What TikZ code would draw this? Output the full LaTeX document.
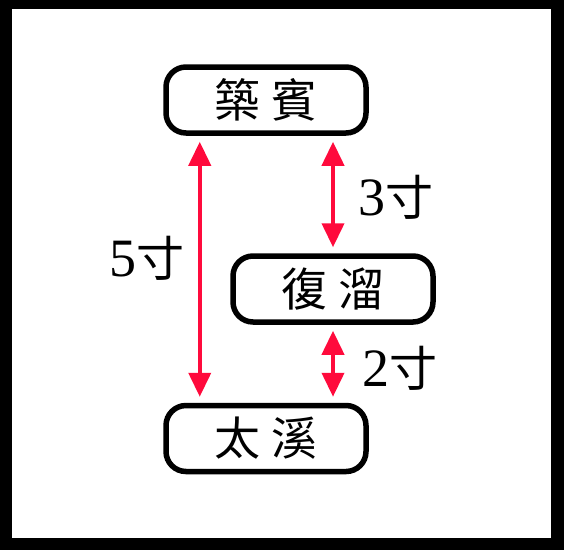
\documentclass[tikz,border=0pt]{standalone}
\usepackage{fontspec}
\setmainfont{Liberation Serif}
\newfontfamily\cjk{Noto Sans CJK TC}
\usetikzlibrary{arrows.meta}
\definecolor{frameBlack}{HTML}{000000}
\definecolor{dimRed}{HTML}{FF0A3C}
\tikzset{
    point/.style={draw=frameBlack,line width=5.5pt,rounded corners=20pt,fill=white,
        minimum width=200pt,minimum height=66pt,inner sep=0pt,
        font=\cjk\fontsize{46}{46}\selectfont},
    dimarrow/.style={{Triangle[length=24pt,width=22pt]}-{Triangle[length=24pt,width=22pt]},
        draw=dimRed,line width=4pt,shorten <=6pt,shorten >=6pt},
    dimlabel/.style={inner sep=0pt,align=center}
}
\newcommand{\sunLabel}[1]{{\fontsize{54}{54}\selectfont #1}{\cjk\fontsize{48}{48}\selectfont 寸}}

\begin{document}
\begin{tikzpicture}[x=1pt,y=-1pt]
    \useasboundingbox (0,0) rectangle (564,550);
    \fill[frameBlack] (0,0) rectangle (564,550);
    \fill[white] (12,9) rectangle (551,538);

    \node[point] (zhubin) at (266,100) {築\hspace{11pt}賓};
    \node[point] (fuliu) at (333,289) {復\hspace{11pt}溜};
    \node[point] (taixi) at (266,438.5) {太\hspace{11pt}溪};

    \draw[dimarrow] ([xshift=36.5pt]zhubin.south west) -- ([xshift=36.5pt]taixi.north west);
    \draw[dimarrow] (fuliu.north |- zhubin.south) -- (fuliu.north);
    \draw[dimarrow] (fuliu.south) -- (fuliu.south |- taixi.north);

    \node[dimlabel] (fiveSun) at (147,258) {\sunLabel{5}};
    \node[dimlabel] (threeSun) at (396,197) {\sunLabel{3}};
    \node[dimlabel] (twoSun) at (400,368) {\sunLabel{2}};
\end{tikzpicture}
\end{document}
